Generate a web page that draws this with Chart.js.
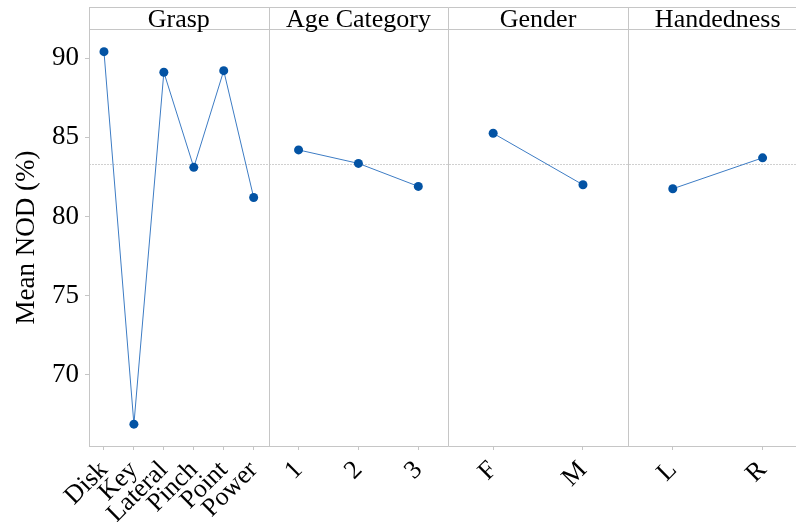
<!DOCTYPE html>
<html>
<head>
<meta charset="utf-8">
<script src="https://cdn.jsdelivr.net/npm/chart.js@4"></script>
<style>
  html, body { margin: 0; padding: 0; background: #fff; overflow: hidden; }
  #wrap { width: 812px; height: 522px; }
</style>
</head>
<body>
<div id="wrap"><canvas id="chart"></canvas></div>
<script>
// factors and their level means
const panels = ['Grasp', 'Age Category', 'Gender', 'Handedness'];
const graspLevels = ['Disk', 'Key', 'Lateral', 'Pinch', 'Point', 'Power'];
const graspMeans = [90.4, 66.9, 89.1, 83.1, 89.2, 81.2];
const ageLevels = ['1', '2', '3'];
const ageMeans = [84.2, 83.35, 81.9];
const genderLevels = ['F', 'M'];
const genderMeans = [85.25, 82.0];
const handLevels = ['L', 'R'];
const handMeans = [81.75, 83.7];
const grandMean = 83.3;
const yTicks = [70, 75, 80, 85, 90];

const FONT = "'Liberation Serif', 'Times New Roman', serif";
const FRAME = '#c6c6c6';

const groups = [
  [graspLevels, graspMeans],
  [ageLevels, ageMeans],
  [genderLevels, genderMeans],
  [handLevels, handMeans],
];

// each panel is one unit wide on the x scale, levels centred in their slot
const xPos = [];
const xLabels = [];
const datasets = groups.map(([levels, means], p) => {
  const pts = levels.map((lv, i) => {
    const x = p + (i + 0.5) / levels.length;
    xPos.push(x);
    xLabels.push(lv);
    return { x: x, y: means[i] };
  });
  return {
    data: pts,
    borderColor: '#3d7cc4',
    borderWidth: 1,
    pointRadius: 4.5,
    pointHoverRadius: 4.5,
    pointBackgroundColor: '#0353a4',
    pointBorderWidth: 0,
  };
});

const framePlugin = {
  id: 'frame',
  beforeDatasetsDraw(chart) {
    const { ctx, chartArea: a, scales: { y } } = chart;
    ctx.save();
    // grand mean reference line
    const gy = Math.round(y.getPixelForValue(grandMean)) + 0.5;
    ctx.strokeStyle = '#d0d0d0';
    ctx.lineWidth = 1;
    ctx.setLineDash([2, 1]);
    ctx.beginPath();
    ctx.moveTo(a.left, gy);
    ctx.lineTo(a.right, gy);
    ctx.stroke();
    ctx.restore();
  },
  afterDraw(chart) {
    const { ctx, chartArea: a, scales: { x } } = chart;
    const top = 7.5;
    ctx.save();
    ctx.strokeStyle = FRAME;
    ctx.lineWidth = 1;
    ctx.beginPath();
    ctx.moveTo(a.left, top); ctx.lineTo(a.right, top);
    ctx.moveTo(a.left, a.top + 0.5); ctx.lineTo(a.right, a.top + 0.5);
    ctx.moveTo(a.left, a.bottom + 0.5); ctx.lineTo(a.right, a.bottom + 0.5);
    for (let p = 0; p <= panels.length; p++) {
      const px = Math.round(x.getPixelForValue(p)) + 0.5;
      ctx.moveTo(px, top); ctx.lineTo(px, a.bottom + 0.5);
    }
    ctx.stroke();
    ctx.fillStyle = '#000';
    ctx.font = '26px ' + FONT;
    ctx.textAlign = 'center';
    ctx.textBaseline = 'alphabetic';
    panels.forEach((name, p) => {
      ctx.fillText(name, x.getPixelForValue(p + 0.5), 27);
    });
    ctx.restore();
  }
};

new Chart(document.getElementById('chart'), {
  type: 'line',
  data: { datasets: datasets },
  options: {
    responsive: true,
    maintainAspectRatio: false,
    animation: false,
    layout: { padding: { top: 29, right: 3, left: 0, bottom: 0 } },
    plugins: { legend: { display: false }, tooltip: { enabled: false } },
    scales: {
      x: {
        type: 'linear',
        min: 0,
        max: 4,
        afterBuildTicks: (s) => { s.ticks = xPos.map(v => ({ value: v })); },
        afterFit: (s) => { s.height = 76; },
        border: { display: false },
        grid: { drawOnChartArea: false, drawTicks: true, tickLength: 4, tickColor: FRAME },
        ticks: {
          autoSkip: false,
          maxRotation: 45,
          minRotation: 45,
          padding: 5,
          color: '#000',
          font: { family: FONT, size: 26 },
          callback: (v, i) => xLabels[i],
        },
      },
      y: {
        min: 65.52,
        max: 91.83,
        afterBuildTicks: (s) => { s.ticks = yTicks.map(v => ({ value: v })); },
        afterFit: (s) => { s.width = 89; },
        border: { display: false },
        grid: { drawOnChartArea: false, drawTicks: true, tickLength: 4, tickColor: FRAME },
        ticks: { padding: 6, color: '#000', font: { family: FONT, size: 27 } },
        title: {
          display: true,
          text: 'Mean NOD (%)',
          color: '#000',
          font: { family: FONT, size: 27 },
          padding: { top: 11, bottom: 0 },
        },
      },
    },
  },
  plugins: [framePlugin],
});
</script>
</body>
</html>
